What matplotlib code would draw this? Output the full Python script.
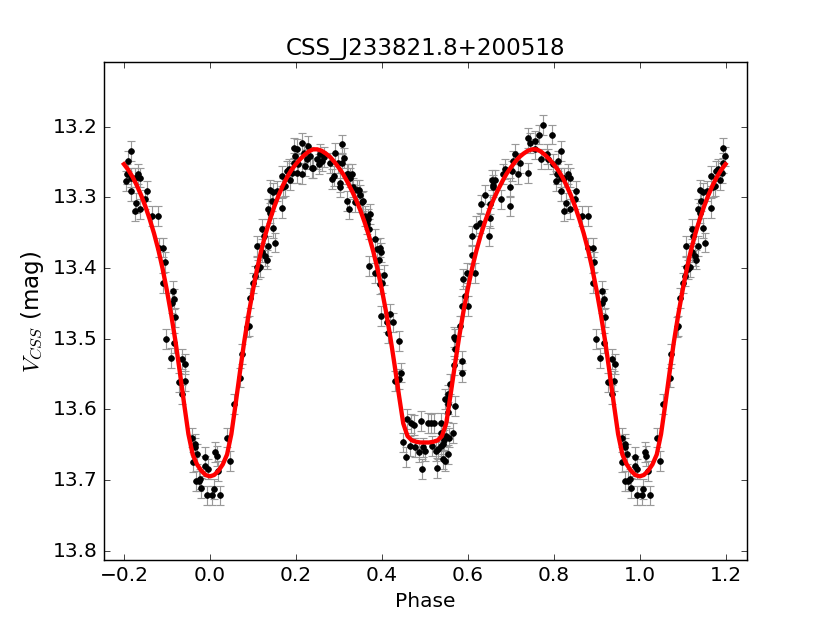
import numpy as np
import matplotlib
matplotlib.use("Agg")
import matplotlib.pyplot as plt
from matplotlib.ticker import FormatStrFormatter

# ---- data (base phase in [0,1)) ----
phase = [
 0.005,0.009,0.012,0.016,0.020,0.024,0.040,0.047,0.055,0.070,0.074,0.086,0.090,0.094,0.101,0.105,
 0.109,0.113,0.117,0.109,0.121,0.129,0.132,0.125,0.121,0.136,0.152,0.148,0.136,0.140,0.144,0.140,
 0.148,0.156,0.167,0.171,0.175,0.167,0.179,0.187,0.183,0.191,0.195,0.198,0.195,0.202,0.206,0.202,
 0.214,0.214,0.218,0.222,0.225,0.229,0.233,0.237,0.241,
 0.249,0.253,0.257,0.260,0.265,0.280,0.284,0.288,0.291,0.299,0.303,0.303,0.307,0.307,0.313,0.319,
 0.319,0.322,0.326,0.330,0.324,0.334,0.338,0.342,0.346,0.349,0.353,0.357,0.361,0.365,0.369,0.373,
 0.371,0.384,0.388,0.396,0.398,0.394,0.370,0.384,0.406,0.400,0.396,0.398,0.412,0.419,0.425,0.414,
 0.441,0.431,0.440,0.444,
 0.450,0.458,0.456,0.466,0.468,0.476,0.477,0.487,0.491,0.497,0.494,0.501,0.507,0.515,0.522,0.518,
 0.526,0.529,0.532,0.539,0.538,0.542,0.543,0.547,0.546,0.550,0.555,0.557,0.559,0.553,0.547,0.553,
 0.555,0.570,0.565,0.539,
 0.567,0.586,0.586,0.570,0.570,0.567,0.582,0.586,0.601,0.594,0.590,0.598,0.617,0.609,0.609,0.619,
 0.629,0.649,0.652,0.640,0.631,0.652,0.656,0.664,0.660,0.660,0.677,0.681,0.687,0.698,0.698,0.706,
 0.710,0.718,0.722,0.741,0.741,0.745,0.757,0.702,
 0.757,0.766,0.776,0.771,0.784,0.788,0.797,0.799,0.807,0.809,0.805,0.817,0.817,0.817,0.825,0.828,
 0.825,0.833,0.838,0.838,0.850,0.853,0.865,0.879,0.881,0.892,0.895,0.892,0.913,0.917,0.912,0.919,
 0.899,0.909,0.917,0.936,0.943,0.941,0.927,0.936,0.958,0.966,0.966,0.960,0.967,0.974,0.980,0.989,
 0.995,0.993,0.989,0.970,0.978,
]
mag = [
 13.722,13.713,13.661,13.666,13.687,13.722,13.640,13.673,13.593,13.555,13.522,13.484,13.482,13.442,13.421,13.411,
 13.399,13.402,13.399,13.369,13.378,13.383,13.388,13.355,13.345,13.369,13.364,13.343,13.317,13.322,13.305,13.289,
 13.293,13.291,13.315,13.286,13.284,13.270,13.263,13.275,13.260,13.265,13.251,13.242,13.230,13.232,13.253,13.265,
 13.267,13.223,13.237,13.256,13.246,13.227,13.242,13.258,13.258,
 13.246,13.253,13.239,13.249,13.243,13.251,13.274,13.270,13.237,13.251,13.279,13.286,13.225,13.251,13.244,13.267,
 13.305,13.267,13.272,13.267,13.317,13.286,13.307,13.289,13.289,13.296,13.307,13.305,13.326,13.338,13.331,13.324,
 13.345,13.359,13.373,13.371,13.378,13.388,13.397,13.407,13.410,13.421,13.423,13.468,13.477,13.465,13.477,13.492,
 13.503,13.560,13.557,13.548,
 13.647,13.614,13.668,13.652,13.620,13.622,13.654,13.660,13.617,13.654,13.685,13.659,13.619,13.620,13.619,13.652,
 13.659,13.683,13.656,13.619,13.652,13.671,13.649,13.673,13.644,13.638,13.664,13.640,13.564,13.579,13.585,13.593,
 13.604,13.595,13.634,13.633,
 13.538,13.531,13.548,13.515,13.501,13.498,13.482,13.454,13.454,13.440,13.416,13.407,13.407,13.381,13.355,13.340,
 13.336,13.355,13.329,13.296,13.310,13.310,13.275,13.275,13.282,13.286,13.303,13.267,13.260,13.286,13.312,13.249,
 13.239,13.267,13.251,13.265,13.216,13.223,13.232,13.263,
 13.220,13.211,13.197,13.246,13.239,13.246,13.211,13.253,13.267,13.249,13.277,13.234,13.272,13.291,13.272,13.308,
 13.319,13.267,13.272,13.317,13.303,13.291,13.326,13.326,13.371,13.371,13.392,13.421,13.432,13.444,13.449,13.470,
 13.501,13.527,13.506,13.529,13.536,13.560,13.562,13.579,13.640,13.649,13.654,13.675,13.701,13.701,13.711,13.680,
 13.685,13.722,13.668,13.663,13.699,
]
mag_err = 0.014

fit_phase = [i / 100 for i in range(101)]
fit_mag = [
 13.695,13.693,13.687,13.678,13.664,13.635,13.592,13.547,13.504,13.466,
 13.432,13.401,13.374,13.351,13.331,13.313,13.297,13.283,13.271,13.261,
 13.253,13.246,13.240,13.235,13.232,13.232,13.234,13.238,13.243,13.250,
 13.258,13.267,13.278,13.290,13.303,13.318,13.335,13.354,13.376,13.401,
 13.430,13.462,13.498,13.538,13.580,13.620,13.638,13.644,13.646,13.647,
 13.647,13.647,13.646,13.644,13.638,13.620,13.580,13.538,13.498,13.462,
 13.430,13.401,13.376,13.354,13.335,13.318,13.303,13.290,13.278,13.267,
 13.258,13.250,13.243,13.238,13.234,13.232,13.232,13.235,13.240,13.246,
 13.253,13.261,13.271,13.283,13.297,13.313,13.331,13.351,13.374,13.401,
 13.432,13.466,13.504,13.547,13.592,13.635,13.664,13.678,13.687,13.693,
 13.695,
]

title = "CSS_J233821.8+200518"
xlabel = "Phase"
ylabel = r"$V_{CSS}$ (mag)"
xticks = [-0.2, 0.0, 0.2, 0.4, 0.6, 0.8, 1.0, 1.2]
yticks = [13.2, 13.3, 13.4, 13.5, 13.6, 13.7, 13.8]

# ---- extend phases to [-0.2, 1.2] ----
p = np.array(phase)
m = np.array(mag)
lo = p >= 0.8
hi = p < 0.2
px = np.concatenate([p[lo] - 1.0, p, p[hi] + 1.0])
my = np.concatenate([m[lo], m, m[hi]])

fp = np.array(fit_phase)
fm = np.array(fit_mag)
flo = (fp >= 0.8) & (fp < 1.0)
fhi = (fp <= 0.2) & (fp > 0)
fx = np.concatenate([fp[flo] - 1.0, fp, fp[fhi] + 1.0])
fy = np.concatenate([fm[flo], fm, fm[fhi]])

plt.style.use("classic")
plt.rcParams["font.family"] = ["DejaVu Sans"]
plt.rcParams["mathtext.fontset"] = "cm"
plt.rcParams["axes.unicode_minus"] = True
fig = plt.figure(figsize=(8, 6), dpi=103.75, facecolor="white")
ax = fig.add_subplot(111)
ax.errorbar(px, my, yerr=mag_err, fmt="none", ecolor="0.6", elinewidth=0.8,
            capsize=3, capthick=0.8, zorder=1)
ax.plot(px, my, "o", color="black", markersize=4, markeredgewidth=0.5, zorder=2)
ax.plot(fx, fy, "-", color="red", linewidth=3, zorder=3)

ax.set_xlim(-0.247, 1.25)
ax.set_ylim(13.813, 13.108)
ax.set_xticks(xticks)
ax.set_yticks(yticks)
ax.set_xticklabels([f"{t:.1f}".replace("-", "\u2212") for t in xticks])
ax.yaxis.set_major_formatter(FormatStrFormatter("%.1f"))
ax.tick_params(labelsize=14)
ax.set_title(title, fontsize=16)
ax.set_xlabel(xlabel, fontsize=14)
ax.set_ylabel(ylabel, fontsize=16)

fig.savefig("out.png", dpi=103.75, facecolor="white")
